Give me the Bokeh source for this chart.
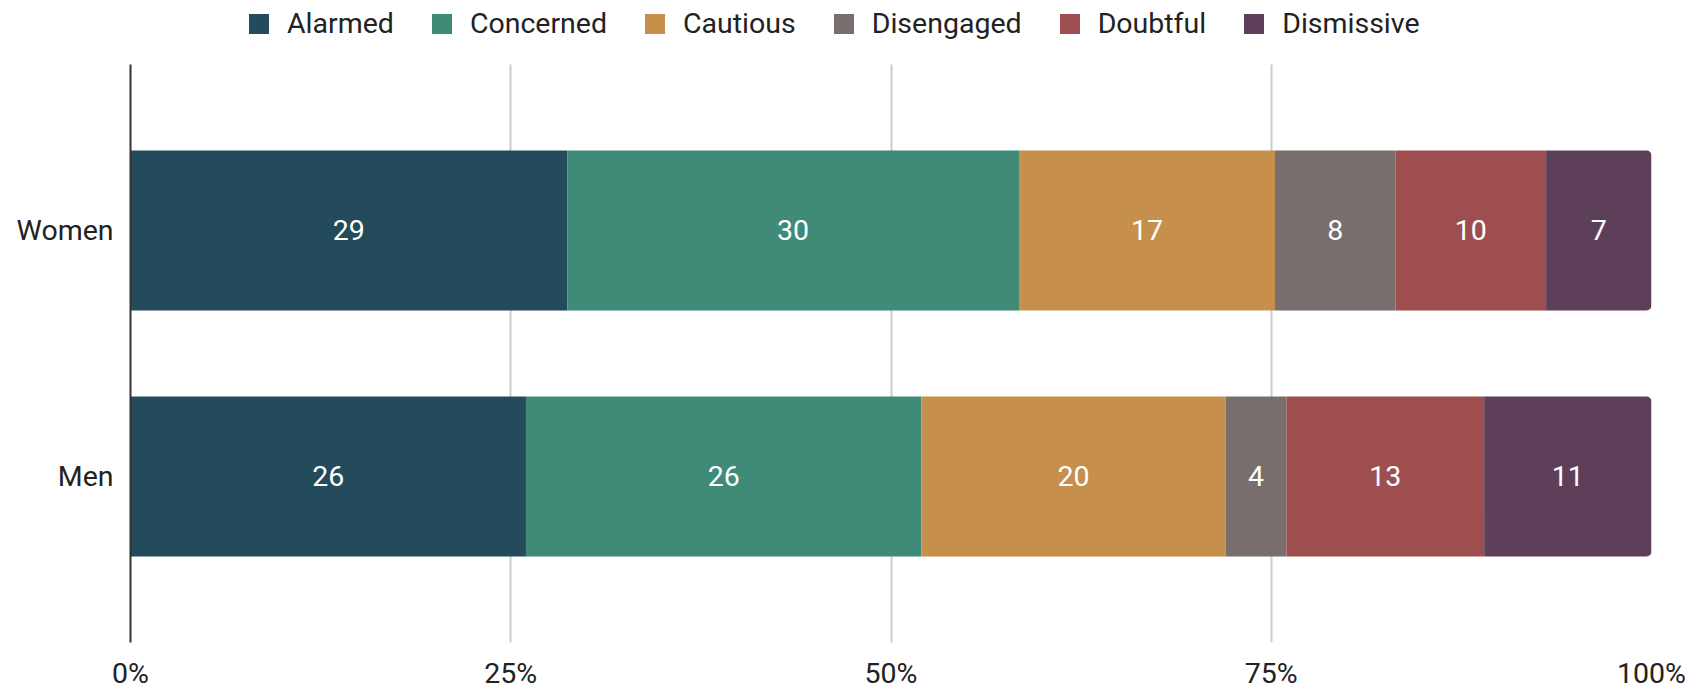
import numpy as np
from bokeh.plotting import figure
from bokeh.models import (ColumnDataSource, Range1d, FixedTicker,
                          Legend, LegendItem)
from bokeh.core.properties import value
from bokeh.embed import file_html
from bokeh.resources import INLINE

groups = ["Women", "Men"]
series = ["Alarmed", "Concerned", "Cautious", "Disengaged", "Doubtful", "Dismissive"]
women = [29, 30, 17, 8, 10, 7]
men = [26, 26, 20, 4, 13, 11]
colors = ["#234b5b", "#3f8b77", "#c68f4b", "#776e6d", "#9e4e4f", "#5d3f5a"]
tick_values = [0, 0.25, 0.5, 0.75, 1.0]
tick_labels = ["0%", "25%", "50%", "75%", "100%"]

FONT = "Roboto"
vals = np.array([women, men], dtype=float)
shares = vals / vals.sum(axis=1, keepdims=True)
rights = np.cumsum(shares, axis=1)
lefts = rights - shares
ypos = [len(groups) - 1 - i for i in range(len(groups))]  # Women on top

Y_LO, Y_HI = -0.675, 1.673   # extent of the plotting band
p = figure(width=1703, height=692, output_backend="svg", toolbar_location=None,
           x_range=Range1d(0, 1), y_range=Range1d(Y_LO, 1.935),
           min_border_left=130, min_border_right=52, min_border_top=0,
           min_border_bottom=46)
p.outline_line_color = None
p.background_fill_color = "white"
p.border_fill_color = "white"

items = []
for j, name in enumerate(series):
    src = ColumnDataSource(dict(
        y=ypos, left=lefts[:, j], right=rights[:, j],
        mid=(lefts[:, j] + rights[:, j]) / 2,
        lab=[str(int(v)) for v in vals[:, j]]))
    kw = {}
    if j == len(series) - 1:
        kw["border_radius"] = (0, 5, 5, 0)
    r = p.hbar(y="y", left="left", right="right", height=0.65, source=src,
               fill_color=colors[j], line_color=None, **kw)
    p.text(x="mid", y="y", text="lab", source=src, text_color="white",
           text_font=value(FONT), text_font_size="28.5px",
           text_align="center", text_baseline="middle")
    items.append(LegendItem(label=name, renderers=[r]))

legend = Legend(items=items, orientation="horizontal", location=(116, 602),
                glyph_width=25, glyph_height=25, label_standoff=16, spacing=35,
                padding=0, margin=0, border_line_color=None,
                background_fill_alpha=0,
                label_text_font=FONT, label_text_font_size="28.5px",
                label_text_color="#222222")
p.add_layout(legend, "center")

p.xaxis.ticker = FixedTicker(ticks=tick_values)
p.xaxis.major_label_overrides = dict(zip(tick_values, tick_labels))
p.xaxis.axis_line_color = None
p.xaxis.major_tick_line_color = None
p.xaxis.minor_tick_line_color = None
p.xaxis.major_tick_out = 0
p.xaxis.major_tick_in = 0
p.xaxis.major_label_standoff = 14
p.xaxis.major_label_text_font = FONT
p.xaxis.major_label_text_font_size = "28.5px"
p.xaxis.major_label_text_color = "#222222"

p.yaxis.ticker = FixedTicker(ticks=ypos)
p.yaxis.major_label_overrides = dict(zip(ypos, groups))
p.yaxis.bounds = (Y_LO, Y_HI)
p.yaxis.axis_line_color = "#333333"
p.yaxis.axis_line_width = 2
p.yaxis.major_tick_line_color = None
p.yaxis.minor_tick_line_color = None
p.yaxis.major_tick_out = 0
p.yaxis.major_tick_in = 0
p.yaxis.major_label_standoff = 17
p.yaxis.major_label_text_font = FONT
p.yaxis.major_label_text_font_size = "28.5px"
p.yaxis.major_label_text_color = "#222222"

p.xgrid.grid_line_color = "#cccccc"
p.xgrid.grid_line_width = 2
p.xgrid.cross_bounds = (Y_LO, Y_HI)
p.ygrid.grid_line_color = None

open("out.html", "w").write(file_html(p, INLINE))
